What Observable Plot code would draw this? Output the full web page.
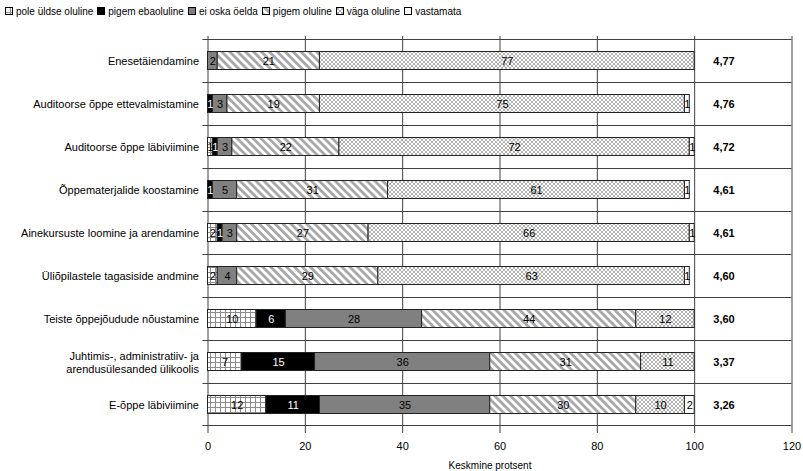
<!DOCTYPE html>
<html><head><meta charset="utf-8">
<script src="https://cdn.jsdelivr.net/npm/d3@7"></script>
<script src="https://cdn.jsdelivr.net/npm/@observablehq/plot@0.6"></script>
<style>
body{margin:0;background:#fff;font-family:"Liberation Sans",Arial,sans-serif;}
#legend{height:22px;display:flex;align-items:center;font-size:10px;padding-left:5px;white-space:nowrap;color:#000;}
.item{display:flex;align-items:center;margin-right:4px;}
.item svg{margin-right:3px;display:block}
</style></head><body>
<svg width="0" height="0" style="position:absolute"><defs>
<pattern id="pGrid" patternUnits="userSpaceOnUse" width="5" height="5">
 <rect width="5" height="5" fill="#fff"/>
 <path d="M0,0.5H5M0.5,0V5" stroke="#8c8c8c" stroke-width="1"/>
</pattern>
<pattern id="pStripe" patternUnits="userSpaceOnUse" width="5.6" height="6" patternTransform="rotate(-45)">
 <rect width="5.6" height="6" fill="#fff"/>
 <rect width="2.8" height="6" fill="#a8a8a8"/>
</pattern>
<pattern id="pCross" patternUnits="userSpaceOnUse" width="4" height="4">
 <rect width="4" height="4" fill="#fff"/>
 <path d="M0,0L4,4M4,0L0,4" stroke="#a8a8a8" stroke-width="0.9"/>
</pattern>
</defs></svg>
<div id="legend"></div>
<div id="chart"></div>
<script>
const categories = [
  "Enesetäiendamine",
  "Auditoorse õppe ettevalmistamine",
  "Auditoorse õppe läbiviimine",
  "Õppematerjalide koostamine",
  "Ainekursuste loomine ja arendamine",
  "Üliõpilastele tagasiside andmine",
  "Teiste õppejõudude nõustamine",
  "Juhtimis-, administratiiv- ja\narendusülesanded ülikoolis",
  "E-õppe läbiviimine"
];
const seriesNames = ["pole üldse oluline","pigem ebaoluline","ei oska öelda","pigem oluline","väga oluline","vastamata"];
const poleYldse    = [0, 0, 1, 0, 2, 2, 10, 7, 12];
const pigemEba     = [0, 1, 1, 1, 1, 0, 6, 15, 11];
const eiOska       = [2, 3, 3, 5, 3, 4, 28, 36, 35];
const pigemOluline = [21, 19, 22, 31, 27, 29, 44, 31, 30];
const vagaOluline  = [77, 75, 72, 61, 66, 63, 12, 11, 10];
const vastamata    = [0, 1, 1, 1, 1, 1, 0, 0, 2];
const means = ["4,77","4,76","4,72","4,61","4,61","4,60","3,60","3,37","3,26"];
const xTicks = [0, 20, 40, 60, 80, 100, 120];

const seriesValues = [poleYldse, pigemEba, eiOska, pigemOluline, vagaOluline, vastamata];
const fills = {
  "pole üldse oluline": "url(#pGrid)",
  "pigem ebaoluline": "#000000",
  "ei oska öelda": "#808080",
  "pigem oluline": "url(#pStripe)",
  "väga oluline": "url(#pCross)",
  "vastamata": "#ffffff"
};

const data = [];
seriesNames.forEach((s, si) => {
  categories.forEach((c, ci) => {
    const v = seriesValues[si][ci];
    if (v > 0) data.push({cat: c, series: s, value: v});
  });
});

const legend = document.getElementById("legend");
seriesNames.forEach(s => {
  const item = document.createElement("div");
  item.className = "item";
  item.innerHTML = `<svg width="8" height="8"><rect x="0.5" y="0.5" width="7" height="7" fill="${fills[s]}" stroke="#000" stroke-width="1"/></svg><span>${s}</span>`;
  legend.appendChild(item);
});

const H = 449, MT = 14, MB = 43;
const step = Math.floor((H - MT - MB) / categories.length); // y scale is rounded
const gridColor = "#404040";

const chart = Plot.plot({
  width: 803,
  height: H,
  marginTop: MT,
  marginBottom: MB,
  marginLeft: 207.5,
  marginRight: 11.5,
  style: {fontFamily: "'Liberation Sans', Arial, sans-serif", fontSize: "11px", color: "#000", background: "#fff"},
  x: {domain: [0, 120], ticks: xTicks},
  y: {domain: categories, padding: 0, axis: null},
  color: {type: "identity"},
  marks: [
    Plot.ruleX(xTicks, {stroke: gridColor}),
    // row boundary lines as 1px-high filled bands (top edge of each row, plus bottom of last row)
    Plot.barX(categories, {y: d => d, x1: -1.03, x2: 120, fill: gridColor, insetBottom: step - 1}),
    Plot.barX([categories[categories.length - 1]], {y: d => d, x1: -1.03, x2: 120, fill: gridColor, insetTop: step - 1}),
    Plot.barX(data, Plot.stackX({
      x: "value", y: "cat",
      fill: d => fills[d.series],
      stroke: "#222", strokeWidth: 1,
      insetTop: 12.5, insetBottom: 12.5
    })),
    Plot.text(data, Plot.stackX({
      x: "value", y: "cat",
      text: d => String(d.value),
      fill: d => d.series === "pigem ebaoluline" ? "#ffffff" : "#000000",
      fontSize: 11
    })),
    Plot.text(categories, {y: d => d, frameAnchor: "left", textAnchor: "end", dx: -9, lineHeight: 1.2, fill: "#000", fontSize: 11}),
    Plot.text(categories, {y: d => d, text: (d, i) => means[i], frameAnchor: "right", textAnchor: "middle", dx: -68, fontWeight: "bold", fill: "#000", fontSize: 11}),
    Plot.axisX({ticks: xTicks, tickSize: 5, tickPadding: 9, label: null, stroke: gridColor, fill: "#000"}),
    Plot.text(["Keskmine protsent"], {frameAnchor: "bottom", dy: 40, dx: -10, fill: "#000", fontSize: 10})
  ]
});
document.getElementById("chart").appendChild(chart);
</script>
</body></html>
